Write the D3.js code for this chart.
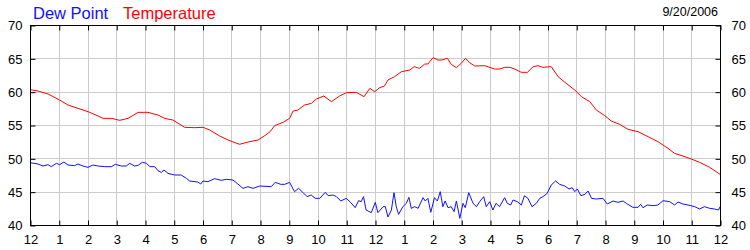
<!DOCTYPE html>
<html>
<head>
<meta charset="utf-8">
<script src="https://cdn.jsdelivr.net/npm/d3@7"></script>
<style>
  body { margin: 0; background: #fff; }
  text { font-family: Arial, "Liberation Sans", sans-serif; }
</style>
</head>
<body>
<div id="chart"></div>
<script>
// hours since midnight, readings in degrees F
var hourLabels = ["12","1","2","3","4","5","6","7","8","9","10","11","12","1","2","3","4","5","6","7","8","9","10","11","12"];
var yTicks = [40, 45, 50, 55, 60, 65, 70];
var dateLabel = "9/20/2006";

var tempHours = [0, 0.28, 0.63, 1.03, 1.32, 1.67, 2.02, 2.37, 2.54, 2.83, 3.12, 3.41, 3.76, 4.1, 4.45, 4.68, 4.97, 5.38, 5.73, 6.02, 6.25, 6.6, 6.89, 7.29, 7.58, 7.93, 8.2, 8.35,
  8.51, 8.8, 9.03, 9.15, 9.32, 9.55, 9.79, 9.96, 10.22, 10.48, 10.77, 11.0, 11.35, 11.62, 11.82, 11.99, 12.16, 12.33, 12.45, 12.68, 12.92, 13.21, 13.36, 13.55, 13.73, 13.84,
  14.02, 14.19, 14.31, 14.52, 14.65, 14.83, 15.0, 15.15, 15.29, 15.47, 15.82, 16.16, 16.34, 16.51, 16.7, 16.86, 17.09, 17.3, 17.5, 17.67, 17.84, 18.13, 18.37, 18.65, 18.95,
  19.18, 19.47, 19.7, 19.99, 20.22, 20.51, 20.8, 21.15, 21.5, 21.84, 22.19, 22.42, 22.71, 23.0, 23.29, 23.64, 23.87, 24];
var tempValues = [60.3, 60.1, 59.65, 58.75, 58.0, 57.5, 57.0, 56.35, 56.0, 56.0, 55.7, 56.0, 56.9, 56.9, 56.5, 56.0, 55.75, 54.65, 54.6, 54.65, 54.25, 53.35, 52.75, 52.1, 52.45, 52.75, 53.5, 54.0,
  54.9, 55.4, 56.0, 57.1, 57.25, 58.0, 58.25, 58.9, 59.35, 58.5, 59.35, 59.85, 59.9, 59.25, 60.5, 60.0, 60.6, 60.85, 61.75, 62.25, 63.0, 63.25, 63.75, 63.5, 64.15, 64.15,
  65.1, 64.75, 64.75, 65.0, 64.1, 63.6, 64.25, 65.0, 64.35, 63.85, 63.9, 63.4, 63.4, 63.65, 63.65, 63.4, 62.9, 62.9, 63.75, 63.9, 63.65, 63.75, 62.25, 61.25, 60.25,
  59.25, 58.5, 57.25, 56.4, 55.6, 55.1, 54.35, 54.0, 53.25, 52.5, 51.5, 50.75, 50.35, 49.9, 49.4, 48.65, 48.0, 47.6];

var dewHours = [0, 0.28, 0.45, 0.63, 0.74, 0.92, 1.03, 1.18, 1.32, 1.55, 1.67, 1.84, 2.02, 2.19, 2.37, 2.6, 2.83, 2.97, 3.18, 3.35, 3.47, 3.64, 3.76, 3.91, 4.05, 4.17,
  4.34, 4.45, 4.57, 4.66, 4.8, 5.03, 5.26, 5.44, 5.55, 5.84, 5.94, 6.02, 6.19, 6.42, 6.65, 6.83, 7.06, 7.23, 7.41, 7.58, 7.76, 7.99, 8.39, 8.53, 8.72, 8.86, 9.03,
  9.2, 9.34, 9.49, 9.64, 9.78, 9.92, 10.08, 10.27, 10.37, 10.54, 10.66, 10.81, 11.0, 11.15, 11.31, 11.43, 11.52, 11.6, 11.69, 11.87, 12.01, 12.1, 12.28, 12.36, 12.45,
  12.57, 12.66, 12.74, 12.82, 12.97, 13.09, 13.18, 13.26, 13.38, 13.5, 13.67, 13.75, 13.84, 13.94, 14.07, 14.17, 14.27, 14.36, 14.44, 14.54, 14.65, 14.75, 14.83,
  14.95, 15.06, 15.14, 15.26, 15.41, 15.53, 15.64, 15.78, 15.87, 15.99, 16.1, 16.21, 16.33, 16.51, 16.6, 16.72, 16.8, 16.95, 17.09, 17.2, 17.32, 17.46, 17.61, 17.73,
  17.84, 17.99, 18.13, 18.28, 18.42, 18.6, 18.75, 18.86, 18.95, 19.04, 19.16, 19.3, 19.41, 19.53, 19.7, 19.93, 20.08, 20.28, 20.45, 20.63, 20.74, 20.97, 21.15, 21.24,
  21.32, 21.47, 21.67, 21.84, 22.02, 22.25, 22.42, 22.54, 22.71, 22.89, 23.12, 23.29, 23.46, 23.64, 23.81, 23.95, 24];
var dewValues = [49.35, 49.15, 48.85, 49.05, 48.75, 49.25, 49.05, 49.45, 49.0, 48.9, 49.15, 48.85, 48.65, 49.0, 48.85, 48.75, 48.75, 49.1, 48.85, 48.85, 49.25, 48.85, 48.95, 49.4, 49.25, 48.75,
  48.75, 48.15, 47.9, 48.25, 47.75, 47.5, 47.5, 47.0, 46.6, 46.45, 46.15, 46.6, 46.5, 46.95, 46.7, 46.85, 46.75, 46.15, 45.5, 45.75, 45.5, 45.85, 45.75, 46.4, 46.1, 46.1, 46.4,
  45.0, 45.5, 44.9, 44.25, 44.5, 44.0, 44.0, 44.9, 44.4, 44.5, 44.25, 43.6, 44.0, 43.4, 42.6, 43.65, 43.5, 44.25, 42.25, 41.85, 43.4, 41.85, 42.75, 42.75, 41.2,
  42.25, 44.85, 42.75, 41.6, 42.75, 43.25, 44.15, 42.5, 42.75, 42.5, 44.1, 43.6, 44.0, 41.9, 44.1, 43.6, 45.0, 42.75, 43.6, 42.6, 42.75, 42.0, 43.6,
  41.0, 43.25, 42.6, 44.85, 43.25, 42.75, 43.5, 44.25, 42.75, 43.5, 42.25, 43.25, 42.75, 44.1, 43.25, 43.0, 43.75, 43.5, 43.0, 44.4, 44.0, 42.75, 43.25, 44.0,
  44.25, 44.75, 46.0, 46.6, 46.1, 45.85, 45.4, 45.6, 45.0, 45.4, 44.4, 44.6, 45.1, 44.0, 43.9, 44.0, 43.15, 43.6, 43.4, 43.6, 43.25, 42.65, 42.65, 43.1,
  42.6, 43.0, 42.9, 43.0, 43.65, 43.5, 43.0, 43.45, 43.15, 43.0, 42.75, 42.4, 42.75, 42.5, 42.4, 42.25, 42.75];

var margin = {top: 25, right: 30, bottom: 25, left: 30},
    width = 750 - margin.left - margin.right,
    height = 250 - margin.top - margin.bottom;

var svg = d3.select("#chart")
  .append("svg")
  .attr("width", 750)
  .attr("height", 250)
  .append("g")
  .attr("transform", "translate(" + margin.left + "," + margin.top + ")");

var x = d3.scaleLinear().domain([0, 24]).range([0, width]);
var y = d3.scaleLinear().domain([40, 70]).range([height, 0]);
var hourTicks = d3.range(0, 25);

// grid
svg.append("g")
  .selectAll("line")
  .data(hourTicks.slice(1, -1))
  .enter().append("line")
  .attr("x1", function(d) { return Math.round(x(d)) + 0.5; })
  .attr("x2", function(d) { return Math.round(x(d)) + 0.5; })
  .attr("y1", 0).attr("y2", height)
  .attr("stroke", "#cccccc");
svg.append("g")
  .selectAll("line")
  .data(yTicks.slice(1, -1))
  .enter().append("line")
  .attr("y1", function(d) { return Math.round(y(d)) + 0.5; })
  .attr("y2", function(d) { return Math.round(y(d)) + 0.5; })
  .attr("x1", 0).attr("x2", width)
  .attr("stroke", "#cccccc");

// lines
var line = d3.line()
  .x(function(d) { return x(d[0]); })
  .y(function(d) { return y(d[1]); });

svg.append("path")
  .datum(tempHours.map(function(h, i) { return [h, tempValues[i]]; }))
  .attr("fill", "none")
  .attr("stroke", "#ff0000")
  .attr("stroke-width", 1)
  .attr("d", line);

svg.append("path")
  .datum(dewHours.map(function(h, i) { return [h, dewValues[i]]; }))
  .attr("fill", "none")
  .attr("stroke", "#1010ff")
  .attr("stroke-width", 1)
  .attr("d", line);

// frame
svg.append("rect")
  .attr("x", 0.5).attr("y", 0.5)
  .attr("width", width).attr("height", height)
  .attr("fill", "none")
  .attr("stroke", "#000");

// axes, ticks inside
function styleAxis(g) {
  g.select(".domain").remove();
  g.selectAll("text")
    .style("font-size", "13px")
    .attr("fill", "#000");
  g.selectAll("line").attr("stroke", "#000");
}

var fmtHour = function(d, i) { return hourLabels[i]; };

svg.append("g")
  .attr("transform", "translate(0.5," + (height + 0.5) + ")")
  .call(d3.axisBottom(x).tickValues(hourTicks).tickFormat(fmtHour).tickSizeInner(-5).tickSizeOuter(0).tickPadding(9))
  .call(styleAxis);

svg.append("g")
  .attr("transform", "translate(0.5,0.5)")
  .call(d3.axisTop(x).tickValues(hourTicks).tickFormat("").tickSizeInner(-5).tickSizeOuter(0))
  .call(styleAxis);

svg.append("g")
  .attr("transform", "translate(0.5,0.5)")
  .call(d3.axisLeft(y).tickValues(yTicks).tickSizeInner(-5).tickSizeOuter(0).tickPadding(8))
  .call(styleAxis);

svg.append("g")
  .attr("transform", "translate(" + (width + 0.5) + ",0.5)")
  .call(d3.axisRight(y).tickValues(yTicks).tickSizeInner(-5).tickSizeOuter(0).tickPadding(11))
  .call(styleAxis);

// legend and date
svg.append("text")
  .attr("x", 3).attr("y", -6)
  .style("font-size", "16.5px")
  .attr("fill", "#1010ff")
  .text("Dew Point");

svg.append("text")
  .attr("x", 93).attr("y", -6)
  .style("font-size", "16.5px")
  .attr("fill", "#ff0000")
  .text("Temperature");

svg.append("text")
  .attr("x", width - 2).attr("y", -9)
  .attr("text-anchor", "end")
  .style("font-size", "12.5px")
  .attr("fill", "#000")
  .text(dateLabel);
</script>
</body>
</html>
